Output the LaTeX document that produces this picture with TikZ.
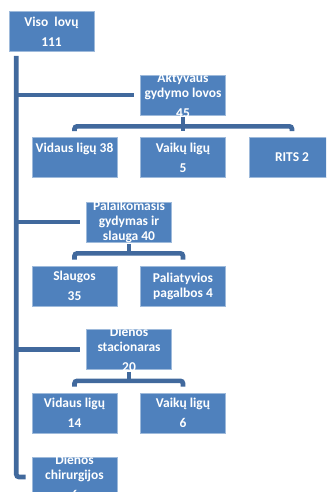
\documentclass[tikz,border=0pt]{standalone}
\usepackage{fontspec}
\setmainfont{Carlito}
\usetikzlibrary{calc}
\definecolor{boxblue}{HTML}{4F81BD}
\definecolor{linkblue}{HTML}{41699D}
\tikzset{
    unit/.style={fill=boxblue, draw=white!45!boxblue, line width=0.5pt, minimum width=63.75pt, minimum height=30pt, inner sep=0pt},
    unittext/.style={text=white, font=\bfseries\fontsize{10.1}{11.25}\selectfont, align=center, inner sep=0pt},
    link/.style={draw=linkblue, line width=3.5pt, rounded corners=2pt}
}
\begin{document}
\begin{tikzpicture}[x=0.75pt, y=-0.75pt]
    \clip (0,0) rectangle (326,492);
    \node[unit] (viso) at (51.5,31.5) {};
    \node[unittext] (visot) at (viso) {Viso\ \ lovų\\[3.75pt]111};
    \node[unit] (aktyv) at (183,95) {};
    \node[unittext] (aktyvt) at (aktyv) {Aktyvaus\\gydymo lovos\\[3.75pt]45};
    \node[unit] (vid1) at (74.5,157.5) {};
    \node[unittext] (vid1t) at (vid1) {Vidaus ligų 38\\[3.75pt]\phantom{0}};
    \node[unit] (vaik1) at (183,157.5) {};
    \node[unittext] (vaik1t) at (vaik1) {Vaikų ligų\\[3.75pt]5};
    \node[unit] (rits) at (292,157.5) {};
    \node[unittext] (ritst) at (rits) {RITS 2};
    \node[unit] (palaik) at (129,222) {};
    \node[unittext] (palaikt) at (palaik) {Palaikomasis\\gydymas ir\\slauga 40};
    \node[unit] (slaug) at (74.5,286) {};
    \node[unittext] (slaugt) at (slaug) {Slaugos\\[3.75pt]35};
    \node[unit] (paliat) at (183,286) {};
    \node[unittext] (paliatt) at (paliat) {Paliatyvios\\pagalbos 4};
    \node[unit] (dien) at (129,349.5) {};
    \node[unittext] (dient) at (dien) {Dienos\\stacionaras\\[3.75pt]20};
    \node[unit] (vid2) at (74.5,413) {};
    \node[unittext] (vid2t) at (vid2) {Vidaus ligų\\[3.75pt]14};
    \node[unit] (vaik2) at (183,413) {};
    \node[unittext] (vaik2t) at (vaik2) {Vaikų ligų\\[3.75pt]6};
    \node[unit] (chir) at (74.5,477) {};
    \node[unittext] (chirt) at (chir) {Dienos\\chirurgijos\\[3.75pt]6};
    \coordinate (top) at (16.3,56);
    \draw[link] (top) |- ($(chir.west)+(-6,0)$);
    \draw[link] (top |- aktyv) -- ($(aktyv.west)+(-6,0)$);
    \draw[link] (top |- palaik) -- ($(palaik.west)+(-6,0)$);
    \draw[link] (top |- dien) -- ($(dien.west)+(-6,0)$);
    \draw[link] ($(vid1.north)+(0,-6)$) |- ($(aktyv.south)+(0,11)$) -| ($(rits.north)+(0,-6)$);
    \draw[link] ($(aktyv.south)+(0,2)$) -- ($(vaik1.north)+(0,-6)$);
    \draw[link] ($(slaug.north)+(0,-6)$) |- ($(palaik.south)+(0,11)$) -| ($(paliat.north)+(0,-6)$);
    \draw[link] ($(palaik.south)+(0,2)$) -- ($(palaik.south)+(0,11)$);
    \draw[link] ($(vid2.north)+(0,-6)$) |- ($(dien.south)+(0,11)$) -| ($(vaik2.north)+(0,-6)$);
    \draw[link] ($(dien.south)+(0,2)$) -- ($(dien.south)+(0,11)$);
\end{tikzpicture}
\end{document}
